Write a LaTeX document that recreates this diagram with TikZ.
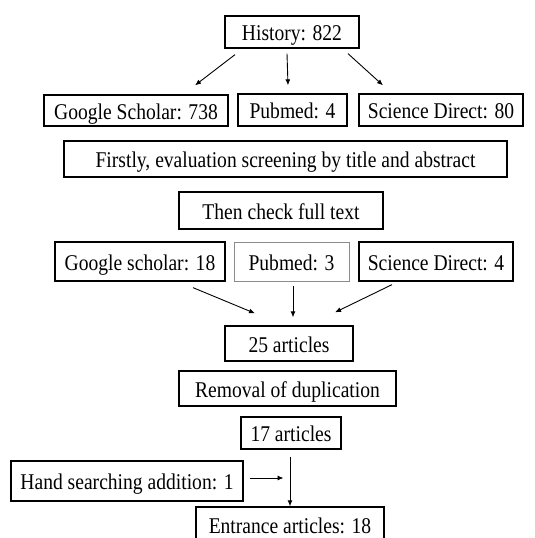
\documentclass[tikz,border=0pt]{standalone}
\usepackage{fontspec}
\setmainfont[FakeStretch=0.87]{Liberation Serif}
\usepackage{tikz}
\usetikzlibrary{positioning,calc,arrows.meta}

\begin{document}
\begin{tikzpicture}[x=1pt, y=1pt,
	stagebox/.style={rectangle, draw=black, line width=1.3pt, inner sep=0pt, text height=18pt, text depth=0pt, font=\fontsize{22.5}{26}\selectfont},
	faintbox/.style={stagebox, draw=black!45, line width=0.8pt},
	arrowline/.style={-{Latex[length=6pt,width=5pt]}, line width=0.9pt}]
	\useasboundingbox (0,0) rectangle (535,538);

	\node (history) [stagebox, minimum width=134pt, minimum height=32pt] at (292,506) {History: 822};

	\node (gs1) [stagebox, minimum width=184pt, minimum height=31pt] at (136,427.5) {Google Scholar: 738};
	\node (pm1) [stagebox, minimum width=109pt, minimum height=32pt] at (292.5,428) {Pubmed: 4};
	\node (sd1) [stagebox, minimum width=164pt, minimum height=32pt] at (441,428) {Science Direct: 80};

	\node (first) [stagebox, minimum width=443pt, minimum height=36pt] at (285.5,379) {Firstly, evaluation screening by title and abstract};
	\node (fulltext) [stagebox, minimum width=204pt, minimum height=37pt] at (281,327.5) {Then check full text};

	\node (gs2) [stagebox, minimum width=170pt, minimum height=39pt] at (140,276.5) {Google scholar: 18};
	\node (pm2) [faintbox, minimum width=115pt, minimum height=39pt] at (291.5,276.5) {Pubmed: 3};
	\node (sd2) [stagebox, minimum width=154pt, minimum height=39pt] at (436,276.5) {Science Direct: 4};

	\node (art25) [stagebox, minimum width=128pt, minimum height=35pt] at (289,194.5) {25 articles};
	\node (removal) [stagebox, minimum width=217pt, minimum height=35pt] at (287.5,149.5) {Removal of duplication};
	\node (art17) [stagebox, minimum width=100pt, minimum height=32pt] at (291,105) {17 articles};
	\node (hand) [stagebox, minimum width=232pt, minimum height=40pt] at (127,57) {Hand searching addition: 1};
	\node (entrance) [stagebox, minimum width=188pt, minimum height=34pt] at (290,14) {Entrance articles: 18};

	\coordinate (merge) at ($(art17.south)!0.5!(entrance.north)$);

	% database split
	\draw[arrowline] ([shift={(-57pt,-6pt)}]history.south) -- ([shift={(59pt,9pt)}]gs1.north);
	\draw[arrowline] ([shift={(-5pt,-5pt)}]history.south) -- ([shift={(-4.5pt,8pt)}]pm1.north);
	\draw[arrowline] ([shift={(56pt,-5pt)}]history.south) -- ([shift={(-58pt,8pt)}]sd1.north);

	% merge after full text
	\draw[arrowline] ([shift={(53pt,-6pt)}]gs2.south) -- ([shift={(-34pt,12pt)}]art25.north);
	\draw[arrowline] ([shift={(1.5pt,-5pt)}]pm2.south) -- ([shift={(4pt,8pt)}]art25.north);
	\draw[arrowline] ([shift={(-44pt,-3pt)}]sd2.south) -- ([shift={(46pt,13pt)}]art25.north);

	\draw[arrowline] ([shift={(-1pt,-7pt)}]art17.south) -- (entrance.north);
	\draw[arrowline] ([shift={(6pt,0pt)}]hand.east |- merge) -- ([xshift=-7pt]merge);
\end{tikzpicture}
\end{document}
